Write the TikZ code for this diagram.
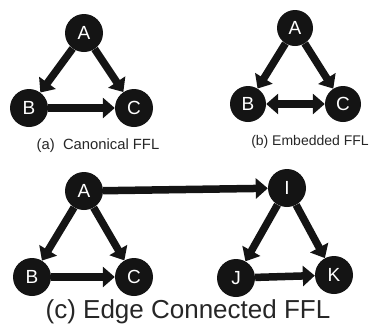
\documentclass[tikz,border=0pt]{standalone}
\usepackage{fontspec}
\setmainfont{Liberation Sans}
\usetikzlibrary{arrows.meta}
\begin{document}
\begin{tikzpicture}[x=1pt,y=-1pt,
  nd/.style={circle,fill=black!92,text=white,minimum size=38pt,inner sep=0pt,font=\fontsize{19}{19}\selectfont},
  ndb/.style={nd,minimum size=36pt},
  edge/.style={line width=7.5pt,draw=black!92,-{Triangle[width=20pt,length=12pt]}},
  bedge/.style={line width=7.5pt,draw=black!92,{Triangle[width=20pt,length=12pt]}-{Triangle[width=20pt,length=12pt]}},
  cap/.style={font=\fontsize{#1}{#1}\selectfont,text=black!85,inner sep=0pt}]
\useasboundingbox (0,0) rectangle (370,325);
% panel a
\node[nd] (aA) at (84,33) {A};
\node[nd] (aB) at (29,108) {B};
\node[nd] (aC) at (134,108) {C};
\draw[edge] (aA) -- (aB);
\draw[edge] (aA) -- (aC);
\draw[edge] (aB) -- (aC);
\node[cap=14.8] (capa) at (98,146) {(a)\ \ Canonical FFL};
% panel b
\node[ndb] (bA) at (295,28) {A};
\node[ndb] (bB) at (248,104) {B};
\node[ndb] (bC) at (343,104) {C};
\draw[edge] (bA) -- (bB);
\draw[edge] (bA) -- (bC);
\draw[bedge] (bB) -- (bC);
\node[cap=14] (capb) at (310,142) {(b) Embedded FFL};
% panel c
\node[nd] (cA) at (84,191) {A};
\node[nd] (cB) at (32,277) {B};
\node[nd] (cC) at (134,277) {C};
\node[nd] (cI) at (287,188) {I};
\node[nd] (cJ) at (236,278) {J};
\node[nd] (cK) at (334,275) {K};
\draw[edge] (cA) -- (cB);
\draw[edge] (cA) -- (cC);
\draw[edge] (cB) -- (cC);
\draw[edge] (cA) -- (cI);
\draw[edge] (cI) -- (cJ);
\draw[edge] (cI) -- (cK);
\draw[edge] (cJ) -- (cK);
\node[cap=26] (capc) at (188,312) {(c) Edge Connected FFL};
\end{tikzpicture}
\end{document}
